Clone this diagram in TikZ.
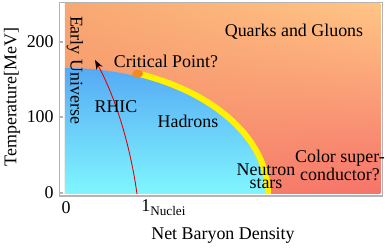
\documentclass[tikz,border=0pt]{standalone}
\usepackage{fontspec}
\setmainfont{Liberation Serif}
\usetikzlibrary{shapes.geometric, arrows.meta, shadings}
\usepackage{xcolor}
\definecolor{qgpTL}{HTML}{F8A872}
\definecolor{qgpTR}{HTML}{FFC585}
\definecolor{qgpBL}{HTML}{F58A6A}
\definecolor{qgpBR}{HTML}{F6736A}
\definecolor{hadTop}{HTML}{56AAF4}
\definecolor{hadBot}{HTML}{80F6FF}
\definecolor{critOrange}{HTML}{F28A1E}
\definecolor{frameGray}{HTML}{B4B4B4}
\tikzset{
    phaselabel/.style={font=\fontsize{10.2}{7.2}\selectfont, inner sep=0pt, align=center},
    ticklabel/.style={font=\fontsize{10.2}{12}\selectfont, inner sep=0pt},
    frameline/.style={draw=frameGray, line width=0.6pt},
    critpoint/.style={ellipse, fill=critOrange, minimum width=0.22cm, minimum height=0.16cm, inner sep=0pt},
    crossover/.style={yellow, line width=0.12cm},
    trajectory/.style={red!90!black, line width=0.5pt, -{Stealth[color=black, length=0.19cm, width=0.14cm]}}
}

\begin{document}
\begin{tikzpicture}[x=0.02cm, y=-0.02cm]
    \useasboundingbox (0,0) rectangle (387,249);
    % plot frame and background
    \draw[frameline] (59.5,2.5) rectangle (382.5,196);
    \foreach \ty in {42,117,193}
        \draw[frameline] (59.5,\ty) -- (63,\ty);
    \shade[upper left=qgpTL, upper right=qgpTR, lower left=qgpBL, lower right=qgpBR] (65,4) rectangle (380.5,194);
    % hadron phase and crossover line
    \shade[top color=hadTop, bottom color=hadBot] (65,194) -- (265,194) arc[start angle=0, end angle=-90, x radius=200, y radius=126] -- cycle;
    \draw[crossover] (268,194) arc[start angle=0, end angle=-69, x radius=203, y radius=129];
    \node (cp) [critpoint] at (137.7,73.6) {};

    \coordinate (nuclei) at (137,194);
    \coordinate (bigbang) at (95,60);
    \draw[trajectory] (nuclei) .. controls (131,150) and (117,100) .. (bigbang);

    \node (qg) [phaselabel] at (294,32) {Quarks and Gluons};
    \node (crit) [phaselabel] at (166,61) {Critical Point?};
    \node (early) [phaselabel, rotate=-90] at (75,70) {Early Universe};
    \node (rhic) [phaselabel] at (116,107) {RHIC};
    \node (had) [phaselabel] at (188,121) {Hadrons};
    \node (ns) [phaselabel] at (266,176) {Neutron\\stars};
    \node (csc) [phaselabel] at (340,165) {Color super-\\conductor?};

    % ticks and axis labels
    \node (y200) [ticklabel, anchor=east] at (54,42) {200};
    \node (y100) [ticklabel, anchor=east] at (54,117) {100};
    \node (y0) [ticklabel, anchor=east] at (54,193) {0};
    \node (x0) [ticklabel] at (66,208) {0};
    \node (x1) [ticklabel, anchor=west] at (141,208) {1\raisebox{-0.45ex}{\fontsize{7.5}{8}\selectfont Nuclei}};
    \node (xlab) [ticklabel] at (223,236) {Net Baryon Density};
    \node (ylab) [ticklabel, rotate=90] at (12,97) {Temperature[MeV]};
\end{tikzpicture}
\end{document}
